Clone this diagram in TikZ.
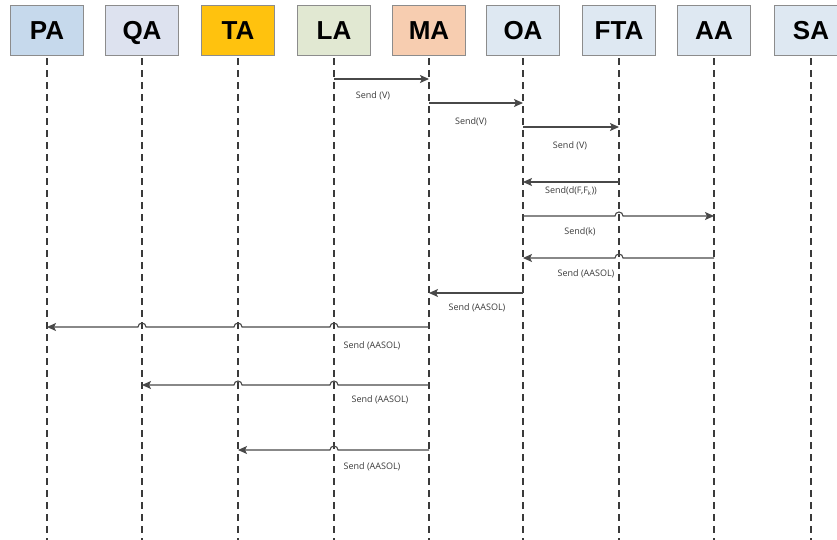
\documentclass[tikz,border=0pt]{standalone}
\usepackage{fontspec}
\setmainfont{Open Sans}
\newfontfamily\headfont{Liberation Sans}
\usetikzlibrary{arrows.meta,calc}
\definecolor{boxline}{HTML}{8C8C8C}
\definecolor{arrowgray}{HTML}{484848}
\definecolor{labelgray}{HTML}{3A3A3A}
\definecolor{lifegray}{HTML}{3A3A3A}
\definecolor{cPA}{HTML}{C6D9EC}
\definecolor{cQA}{HTML}{DDE2EF}
\definecolor{cTA}{HTML}{FFC20E}
\definecolor{cLA}{HTML}{E1E8D2}
\definecolor{cMA}{HTML}{F7CDB0}
\definecolor{cOA}{HTML}{DEE8F2}
\begin{document}
\begin{tikzpicture}[x=1pt,y=1pt,
  agent/.style={draw=boxline, line width=0.8pt, minimum width=73pt, minimum height=50pt, inner sep=0pt, text height=19pt, text depth=0pt, font=\headfont\bfseries\fontsize{26}{26}\selectfont},
  life/.style={draw=lifegray, line width=1.3pt, dash pattern=on 7pt off 5pt},
  msg/.style={draw=arrowgray, line width=1.1pt, -{Stealth[length=9pt,width=8pt,inset=2pt]}},
  lbl/.style={font=\fontsize{9}{9}\selectfont, text=labelgray, inner sep=0pt},
]
\useasboundingbox (0,0) rectangle (837,-540);
% agents
\node[agent, fill=cPA] (PA) at (47,-30) {PA};
\node[agent, fill=cQA] (QA) at (142,-30) {QA};
\node[agent, fill=cTA] (TA) at (238,-30) {TA};
\node[agent, fill=cLA] (LA) at (334,-30) {LA};
\node[agent, fill=cMA] (MA) at (429,-30) {MA};
\node[agent, fill=cOA] (OA) at (523,-30) {OA};
\node[agent, fill=cOA] (FTA) at (619,-30) {FTA};
\node[agent, fill=cOA] (AA) at (714,-30) {AA};
\node[agent, fill=cOA] (SA) at (811,-30) {SA};
% lifelines
\coordinate (bot) at (0,-545);
\foreach \a in {PA,QA,TA,LA,MA,OA,FTA,AA,SA}{
  \draw[life] ([yshift=-3pt]\a.south) -- (\a |- bot);
}
% message rows
\coordinate (r1) at (0,-79);
\coordinate (r2) at (0,-103);
\coordinate (r3) at (0,-127);
\coordinate (r4) at (0,-182);
\coordinate (r5) at (0,-216);
\coordinate (r6) at (0,-258);
\coordinate (r7) at (0,-293);
\coordinate (r8) at (0,-327);
\coordinate (r9) at (0,-385);
\coordinate (r10) at (0,-450);
% messages
\draw[msg] (LA |- r1) -- (MA |- r1);
\draw[msg] (MA |- r2) -- (OA |- r2);
\draw[msg] (OA |- r3) -- (FTA |- r3);
\draw[msg] (FTA |- r4) -- (OA |- r4);
\draw[msg] (OA |- r5) -- ([xshift=-4pt]FTA |- r5) arc[start angle=180,end angle=0,radius=4pt] -- (AA |- r5);
\draw[msg] (AA |- r6) -- ([xshift=4pt]FTA |- r6) arc[start angle=0,end angle=180,radius=4pt] -- (OA |- r6);
\draw[msg] (OA |- r7) -- (MA |- r7);
\draw[msg] (MA |- r8) -- ([xshift=4pt]LA |- r8) arc[start angle=0,end angle=180,radius=4pt]
  -- ([xshift=4pt]TA |- r8) arc[start angle=0,end angle=180,radius=4pt]
  -- ([xshift=4pt]QA |- r8) arc[start angle=0,end angle=180,radius=4pt] -- (PA |- r8);
\draw[msg] (MA |- r9) -- ([xshift=4pt]LA |- r9) arc[start angle=0,end angle=180,radius=4pt]
  -- ([xshift=4pt]TA |- r9) arc[start angle=0,end angle=180,radius=4pt] -- (QA |- r9);
\draw[msg] (MA |- r10) -- ([xshift=4pt]LA |- r10) arc[start angle=0,end angle=180,radius=4pt] -- (TA |- r10);
% labels
\node[lbl] (l1) at (373,-96) {Send (V)};
\node[lbl] (l2) at (471,-122) {Send(V)};
\node[lbl] (l3) at (570,-146) {Send (V)};
\node[lbl] (l4) at (571,-191) {Send(d(F,F\textsubscript{k}))};
\node[lbl] (l5) at (580,-232) {Send(k)};
\node[lbl] (l6) at (586,-274) {Send (AASOL)};
\node[lbl] (l7) at (477,-308) {Send (AASOL)};
\node[lbl] (l8) at (372,-346) {Send (AASOL)};
\node[lbl] (l9) at (380,-400) {Send (AASOL)};
\node[lbl] (l10) at (372,-467) {Send (AASOL)};
\end{tikzpicture}
\end{document}
